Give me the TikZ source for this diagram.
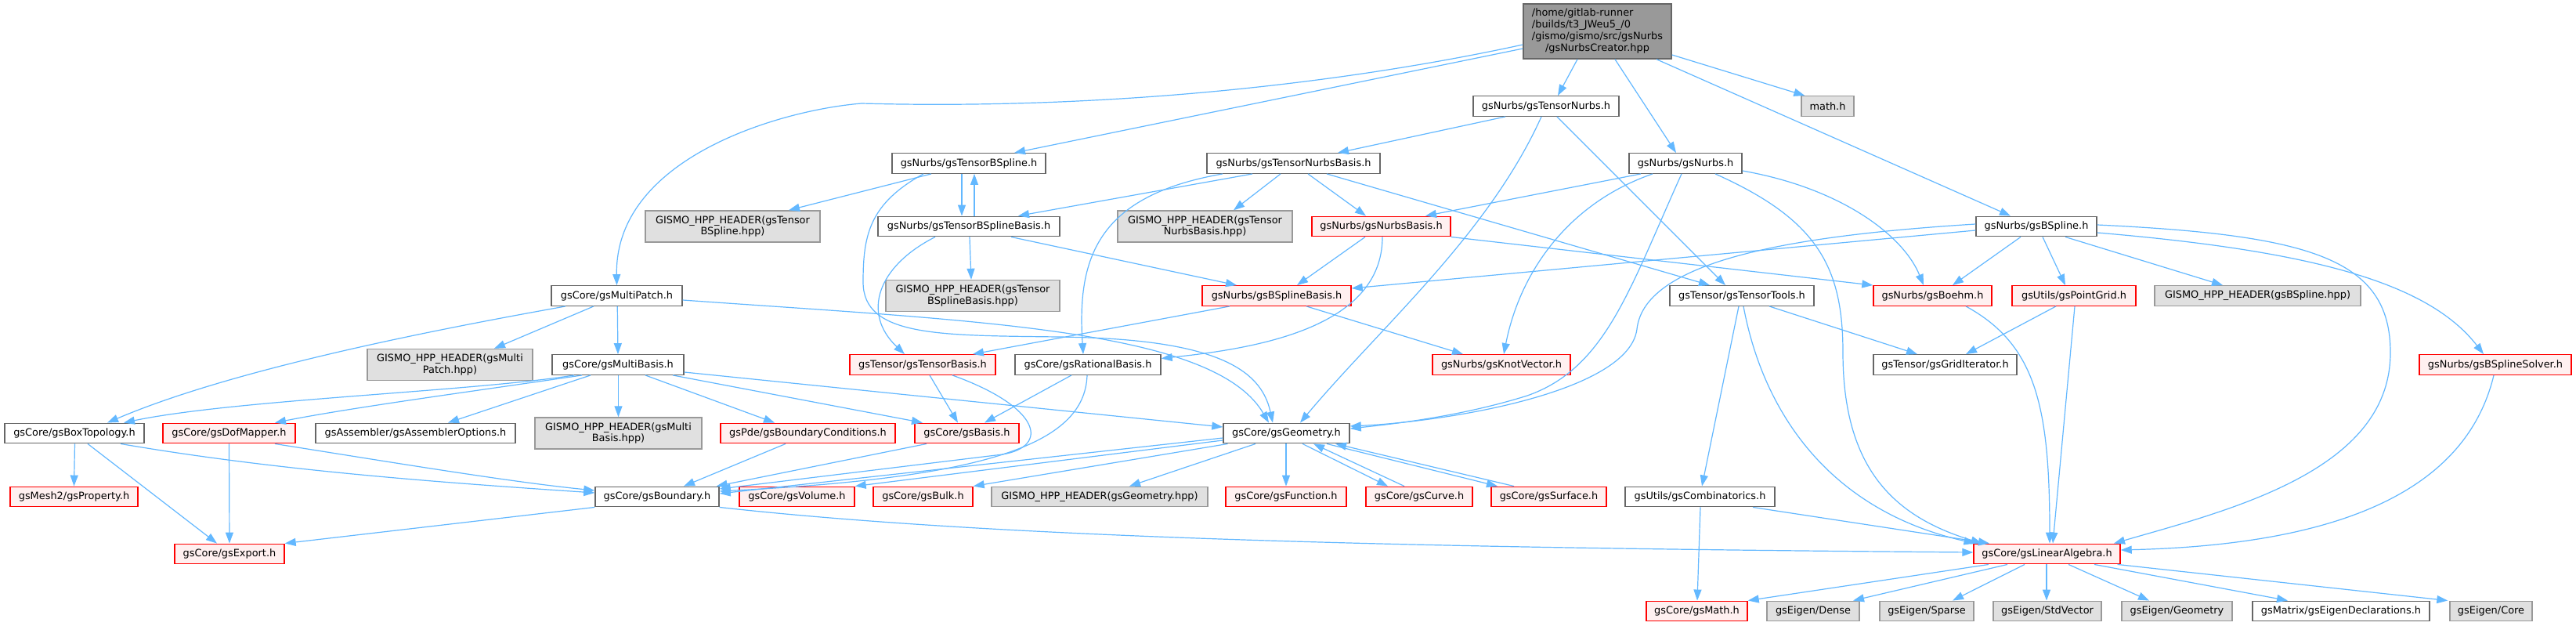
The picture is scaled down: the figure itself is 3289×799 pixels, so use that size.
\documentclass[tikz,border=0pt]{standalone}
\usepackage{fontspec}
\setmainfont{DejaVu Sans}
\usetikzlibrary{arrows.meta}
\definecolor{cedge}{RGB}{99,184,255}
\definecolor{cgray}{RGB}{102,102,102}
\definecolor{cgrayb}{RGB}{153,153,153}
\definecolor{cgrayf}{RGB}{224,224,224}
\definecolor{cred}{RGB}{255,0,0}
\definecolor{cpink}{RGB}{255,240,240}
\definecolor{croot}{RGB}{153,153,153}
\tikzset{
  base/.style={draw, rectangle, inner sep=0pt, line width=1.4pt, font=\fontsize{12.9}{14.8}\selectfont, minimum height=25.5pt, text=black},
  wnode/.style={base, draw=cgray, fill=white},
  gnode/.style={base, draw=cgrayb, fill=cgrayf},
  rnode/.style={base, draw=cred, fill=cpink},
  rootnode/.style={base, draw=cgray, fill=croot},
  edge/.style={draw=cedge, line width=1.2pt, -{Triangle[length=14pt,width=10pt]}},
}
\begin{document}
\begin{tikzpicture}[x=1pt,y=-1pt]
\useasboundingbox (0,0) rectangle (3289,799);
\fill[white] (0,0) rectangle (3289,799);
% nodes
\node[rootnode, minimum width=189pt, minimum height=70pt] (root) at (2039.5,40) {\begin{tabular}{@{}l@{}}/home/gitlab-runner\\/builds/t3\_JWeu5\_/0\\/gismo/gismo/src/gsNurbs\\\multicolumn{1}{@{}c@{}}{/gsNurbsCreator.hpp}\end{tabular}};
\node[wnode, minimum width=186pt] (tnurbs) at (1974,135.5) {gsNurbs/gsTensorNurbs.h};
\node[gnode, minimum width=67pt] (math) at (2333.5,135.5) {math.h};
\node[wnode, minimum width=196pt] (tbspline) at (1237,208.5) {gsNurbs/gsTensorBSpline.h};
\node[wnode, minimum width=221pt] (tnbasis) at (1651.5,208.5) {gsNurbs/gsTensorNurbsBasis.h};
\node[wnode, minimum width=144pt] (nurbs) at (2152,208.5) {gsNurbs/gsNurbs.h};
\node[wnode, minimum width=232pt] (tbsbasis) at (1237,289) {gsNurbs/gsTensorBSplineBasis.h};
\node[gnode, minimum width=223pt, minimum height=40pt, align=center] (gtnb) at (1538.5,289) {GISMO\_HPP\_HEADER(gsTensor\\NurbsBasis.hpp)};
\node[rnode, minimum width=177pt] (nbasis) at (1763.5,289) {gsNurbs/gsNurbsBasis.h};
\node[wnode, minimum width=154pt] (bspline) at (2600,289) {gsNurbs/gsBSpline.h};
\node[gnode, minimum width=223pt, minimum height=40pt, align=center] (gtbs) at (935.5,289) {GISMO\_HPP\_HEADER(gsTensor\\BSpline.hpp)};
\node[wnode, minimum width=167pt] (mpatch) at (787.5,377.5) {gsCore/gsMultiPatch.h};
\node[gnode, minimum width=222pt, minimum height=40pt, align=center] (gtbsb) at (1242,377.5) {GISMO\_HPP\_HEADER(gsTensor\\BSplineBasis.hpp)};
\node[rnode, minimum width=190pt] (bsbasis) at (1630,377.5) {gsNurbs/gsBSplineBasis.h};
\node[wnode, minimum width=184pt] (ttools) at (2224,377.5) {gsTensor/gsTensorTools.h};
\node[rnode, minimum width=151pt] (boehm) at (2467.5,377.5) {gsNurbs/gsBoehm.h};
\node[rnode, minimum width=158pt] (pgrid) at (2648,377.5) {gsUtils/gsPointGrid.h};
\node[gnode, minimum width=263pt] (gbs) at (2882.5,377.5) {GISMO\_HPP\_HEADER(gsBSpline.hpp)};
\node[gnode, minimum width=211pt, minimum height=40pt, align=center] (gmp) at (574.5,465.5) {GISMO\_HPP\_HEADER(gsMulti\\Patch.hpp)};
\node[wnode, minimum width=168pt] (mbasis) at (789,465.5) {gsCore/gsMultiBasis.h};
\node[rnode, minimum width=186pt] (tbasis) at (1178,465.5) {gsTensor/gsTensorBasis.h};
\node[wnode, minimum width=186pt] (rbasis) at (1389,465.5) {gsCore/gsRationalBasis.h};
\node[rnode, minimum width=176pt] (kv) at (1917,465.5) {gsNurbs/gsKnotVector.h};
\node[wnode, minimum width=183pt] (grid) at (2483.5,465.5) {gsTensor/gsGridIterator.h};
\node[rnode, minimum width=194pt] (solver) at (3186,465.5) {gsNurbs/gsBSplineSolver.h};
\node[wnode, minimum width=178pt] (boxt) at (95,553) {gsCore/gsBoxTopology.h};
\node[rnode, minimum width=169pt] (dof) at (292.5,553) {gsCore/gsDofMapper.h};
\node[wnode, minimum width=255pt] (asm) at (530.5,553) {gsAssembler/gsAssemblerOptions.h};
\node[gnode, minimum width=213pt, minimum height=40pt, align=center] (gmb) at (789.5,553) {GISMO\_HPP\_HEADER(gsMulti\\Basis.hpp)};
\node[rnode, minimum width=223pt] (bc) at (1031.5,553) {gsPde/gsBoundaryConditions.h};
\node[rnode, minimum width=133pt] (basis) at (1234.5,553) {gsCore/gsBasis.h};
\node[wnode, minimum width=161pt] (geom) at (1642.5,553) {gsCore/gsGeometry.h};
\node[rnode, minimum width=163pt] (prop) at (94.5,634) {gsMesh2/gsProperty.h};
\node[wnode, minimum width=158pt] (bnd) at (839,634) {gsCore/gsBoundary.h};
\node[rnode, minimum width=147pt] (vol) at (1017.5,634) {gsCore/gsVolume.h};
\node[rnode, minimum width=127pt] (bulk) at (1178.5,634) {gsCore/gsBulk.h};
\node[gnode, minimum width=276pt] (ggeo) at (1404,634) {GISMO\_HPP\_HEADER(gsGeometry.hpp)};
\node[rnode, minimum width=154pt] (func) at (1642,634) {gsCore/gsFunction.h};
\node[rnode, minimum width=136pt] (curve) at (1812,634) {gsCore/gsCurve.h};
\node[rnode, minimum width=147pt] (surf) at (1977.5,634) {gsCore/gsSurface.h};
\node[wnode, minimum width=191pt] (comb) at (2170.5,634) {gsUtils/gsCombinatorics.h};
\node[rnode, minimum width=140pt] (exp) at (293,707) {gsCore/gsExport.h};
\node[rnode, minimum width=187pt] (la) at (2613.5,707) {gsCore/gsLinearAlgebra.h};
\node[rnode, minimum width=129pt] (gmath) at (2166.5,780) {gsCore/gsMath.h};
\node[gnode, minimum width=118pt] (dense) at (2315,780) {gsEigen/Dense};
\node[gnode, minimum width=120pt] (sparse) at (2460,780) {gsEigen/Sparse};
\node[gnode, minimum width=138pt] (stdv) at (2614,780) {gsEigen/StdVector};
\node[gnode, minimum width=141pt] (egeo) at (2779.5,780) {gsEigen/Geometry};
\node[wnode, minimum width=226pt] (edecl) at (2989,780) {gsMatrix/gsEigenDeclarations.h};
\node[gnode, minimum width=105pt] (core) at (3180.5,780) {gsEigen/Core};
% edges from root
\draw[edge] ([yshift=-22pt]root.west) -- ([xshift=58pt]tbspline.north);
\draw[edge] ([yshift=-17pt]root.west) .. controls (1700,110) and (1400,140) .. (1100,132) .. controls (1000,140) and (785,200) .. (mpatch.north);
\draw[edge] ([xshift=-25.5pt]root.south) -- ([xshift=15pt]tnurbs.north);
\draw[edge] ([xshift=22.5pt]root.south) -- ([xshift=-12pt]nurbs.north);
\draw[edge] ([xshift=75.5pt]root.south) -- ([xshift=-33pt]bspline.north);
\draw[edge] ([yshift=-30pt]root.east) -- ([xshift=5pt]math.north west);
% tensor nurbs
\draw[edge] ([xshift=-52pt]tnurbs.south) -- ([xshift=56.5pt]tnbasis.north);
\draw[edge] ([xshift=-6pt]tnurbs.south) .. controls (1900,300) and (1760,420) .. ([xshift=17.5pt]geom.north);
\draw[edge] ([xshift=14pt]tnurbs.south) -- ([xshift=-21pt]ttools.north);
% tensor bspline
\draw[edge] ([xshift=-48pt]tbspline.south) -- ([xshift=71.5pt]gtbs.north);
\draw[edge] ([xshift=-9pt]tbspline.south) -- ([xshift=-9pt]tbsbasis.north);
\draw[edge] ([xshift=7pt]tbsbasis.north) -- ([xshift=7pt]tbspline.south);
\draw[edge] ([xshift=-58pt]tbspline.south) .. controls (1110,260) and (1102,300) .. (1102,360) .. controls (1102,430) and (1200,428) .. (1350,430) .. controls (1550,432) and (1610,470) .. ([xshift=-17.5pt]geom.north);
% tensor bspline basis
\draw[edge] ([xshift=1pt]tbsbasis.south) -- ([xshift=-2pt]gtbsb.north);
\draw[edge] ([xshift=54pt]tbsbasis.south) -- ([xshift=-51pt]bsbasis.north);
\draw[edge] ([xshift=-43pt]tbsbasis.south) .. controls (1120,340) and (1100,400) .. ([xshift=-23pt]tbasis.north);
% tensor nurbs basis
\draw[edge] ([xshift=-52.5pt]tnbasis.south) -- ([xshift=63pt]tbsbasis.north);
\draw[edge] ([xshift=-16.5pt]tnbasis.south) -- ([xshift=36.5pt]gtnb.north);
\draw[edge] ([xshift=18.5pt]tnbasis.south) -- ([xshift=-19.5pt]nbasis.north);
\draw[edge] ([xshift=-90.5pt]tnbasis.south) .. controls (1400,250) and (1375,330) .. ([xshift=-6pt]rbasis.north);
\draw[edge] ([xshift=42.5pt]tnbasis.south) -- ([xshift=-41pt]ttools.north);
% nurbs basis
\draw[edge] ([xshift=-20.5pt]nbasis.south) -- ([xshift=26pt]bsbasis.north);
\draw[edge] ([xshift=1.5pt]nbasis.south) .. controls (1765,420) and (1600,445) .. ([yshift=8pt]rbasis.east);
\draw[edge] (nbasis.south east) -- (boehm.north west);
% nurbs
\draw[edge] ([xshift=-57pt]nurbs.south) -- ([xshift=56.5pt]nbasis.north);
\draw[edge] ([xshift=-42pt]nurbs.south) .. controls (2000,260) and (1940,350) .. ([xshift=3pt]kv.north);
\draw[edge] ([xshift=-5pt]nurbs.south) .. controls (2080,370) and (2050,470) .. (1950,505) .. controls (1870,530) and (1790,540) .. ([yshift=6pt]geom.east);
\draw[edge] ([xshift=38pt]nurbs.south) .. controls (2320,280) and (2353,340) .. (2353,450) .. controls (2353,600) and (2420,660) .. ([xshift=-83pt]la.north);
\draw[edge] ([yshift=-9.5pt]nurbs.east) .. controls (2350,240) and (2430,300) .. ([xshift=-11.5pt]boehm.north);
% bspline
\draw[edge] ([yshift=-5pt]bspline.west) -- ([yshift=9.5pt]bsbasis.east);
\draw[edge] ([yshift=3pt]bspline.west) .. controls (2300,300) and (2100,330) .. (2090,420) .. controls (2080,500) and (1850,538) .. ([yshift=9pt]geom.east);
\draw[edge] ([xshift=-20pt]bspline.south) -- ([xshift=25.5pt]boehm.north);
\draw[edge] ([xshift=8pt]bspline.south) -- ([xshift=-11pt]pgrid.north);
\draw[edge] ([xshift=37pt]bspline.south) -- ([xshift=-44.5pt]gbs.north);
\draw[edge] ([yshift=2pt]bspline.east) .. controls (2950,300) and (3052,330) .. (3052,450) .. controls (3052,600) and (2850,650) .. ([xshift=85.5pt]la.north);
\draw[edge] ([yshift=-8pt]bspline.east) .. controls (2950,320) and (3100,360) .. ([xshift=-15pt]solver.north);
% bspline basis
\draw[edge] ([xshift=-60pt]bsbasis.south) -- ([xshift=64pt]tbasis.north);
\draw[edge] ([xshift=38pt]bsbasis.south) -- ([xshift=-49pt]kv.north);
% tensor tools etc.
\draw[edge] ([xshift=35pt]ttools.south) -- ([xshift=-35.5pt]grid.north);
\draw[edge] ([xshift=-4pt]ttools.south) -- ([xshift=2.5pt]comb.north);
\draw[edge] ([xshift=2pt]ttools.south) .. controls (2250,520) and (2330,650) .. ([xshift=-92pt]la.north);
\draw[edge] ([xshift=42.5pt]boehm.south) .. controls (2600,440) and (2617,520) .. ([xshift=3.5pt]la.north);
\draw[edge] ([xshift=-23pt]pgrid.south) -- ([xshift=26.5pt]grid.north);
\draw[edge] ([xshift=1pt]pgrid.south) -- ([xshift=7.5pt]la.north);
\draw[edge] ([xshift=-2pt]solver.south) .. controls (3150,620) and (3000,695) .. ([yshift=5pt]la.east);
\draw[edge] ([xshift=0.5pt]comb.south) -- ([xshift=0.5pt]gmath.north);
\draw[edge] ([xshift=67.5pt]comb.south) -- ([xshift=-73.5pt]la.north);
% linear algebra
\draw[edge] ([xshift=-74.5pt]la.south) -- (gmath.north east);
\draw[edge] ([xshift=-50.5pt]la.south) -- ([xshift=51pt]dense.north);
\draw[edge] ([xshift=-28.5pt]la.south) -- ([xshift=33pt]sparse.north);
\draw[edge] ([xshift=-0.5pt]la.south) -- ([xshift=-1pt]stdv.north);
\draw[edge] ([xshift=27.5pt]la.south) -- ([xshift=-35.5pt]egeo.north);
\draw[edge] ([xshift=60.5pt]la.south) -- ([xshift=-68pt]edecl.north);
\draw[edge] ([xshift=90pt]la.south) -- ([xshift=-2pt]core.north west);
% multipatch
\draw[edge] ([xshift=-65.5pt]mpatch.south) .. controls (560,420) and (300,470) .. ([xshift=42pt]boxt.north);
\draw[edge] ([xshift=-29.5pt]mpatch.south) -- ([xshift=56.5pt]gmp.north);
\draw[edge] ([xshift=0.75pt]mpatch.south) -- (mbasis.north);
\draw[edge] ([yshift=-5.5pt]mpatch.east) .. controls (1250,410) and (1550,420) .. ([xshift=-22.5pt]geom.north);
% multibasis
\draw[edge] ([xshift=-56pt]mbasis.south) .. controls (600,500) and (300,510) .. ([xshift=63pt]boxt.north);
\draw[edge] ([xshift=-46pt]mbasis.south) .. controls (600,500) and (450,520) .. ([xshift=58.5pt]dof.north);
\draw[edge] ([xshift=-35pt]mbasis.south) -- ([xshift=41.5pt]asm.north);
\draw[edge] ([xshift=0.5pt]mbasis.south) -- (gmb.north);
\draw[edge] ([xshift=35pt]mbasis.south) -- ([xshift=-42.5pt]bc.north);
\draw[edge] ([xshift=70pt]mbasis.south) -- ([xshift=-56.5pt]basis.north);
\draw[edge] ([yshift=-9.5pt]mbasis.east) -- ([yshift=8pt]geom.west);
% box topology, dof mapper, boundary conditions
\draw[edge] ([xshift=0.5pt]boxt.south) -- (prop.north);
\draw[edge] ([xshift=17pt]boxt.south) -- ([xshift=-16pt]exp.north);
\draw[edge] ([xshift=59pt]boxt.south) .. controls (350,600) and (550,615) .. ([yshift=5pt]bnd.west);
\draw[edge] (dof.south) -- (exp.north);
\draw[edge] ([xshift=58.5pt]dof.south) .. controls (500,590) and (650,615) .. ([yshift=8pt]bnd.west);
\draw[edge] ([xshift=-28.5pt]bc.south) -- ([xshift=34pt]bnd.north);
% boundary
\draw[edge] (bnd.south west) -- (exp.north east);
\draw[edge] (bnd.south east) .. controls (1300,690) and (1900,700) .. ([yshift=2pt]la.west);
% basis family
\draw[edge] ([xshift=-51.5pt]basis.south) -- ([xshift=-4pt]bnd.north east);
\draw[edge] ([xshift=38pt]tbasis.south) .. controls (1330,520) and (1340,570) .. (1280,580) -- ([yshift=10pt]bnd.east);
\draw[edge] ([xshift=-1pt]rbasis.south) .. controls (1385,570) and (1250,610) .. ([yshift=7pt]bnd.east);
\draw[edge] ([xshift=-21pt]rbasis.south) -- ([xshift=22.5pt]basis.north);
\draw[edge] ([xshift=9pt]tbasis.south) -- ([xshift=-11.5pt]basis.north);
% geometry
\draw[edge] ([yshift=-6pt]geom.west) -- ([yshift=4pt]bnd.east);
\draw[edge] ([yshift=-9pt]geom.west) -- (vol.north east);
\draw[edge] ([xshift=-75pt]geom.south) -- (bulk.north east);
\draw[edge] ([xshift=-39.5pt]geom.south) -- ([xshift=38pt]ggeo.north);
\draw[edge] ([xshift=-0.5pt]geom.south) -- (func.north);
\draw[edge] ([xshift=20.5pt]geom.south) -- ([xshift=-40pt]curve.north);
\draw[edge] ([xshift=-19pt]curve.north) -- ([xshift=34.5pt]geom.south);
\draw[edge] ([xshift=51.5pt]geom.south) -- ([xshift=-65.5pt]surf.north);
\draw[edge] ([xshift=-44.5pt]surf.north) -- ([xshift=62.5pt]geom.south);
\end{tikzpicture}
\end{document}
